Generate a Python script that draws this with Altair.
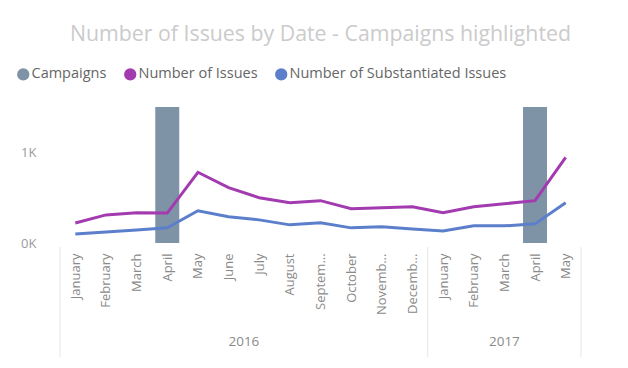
import altair as alt
import pandas as pd

months = ["January", "February", "March", "April", "May", "June", "July", "August",
          "September", "October", "November", "December",
          "January", "February", "March", "April", "May"]
years = [2016] * 12 + [2017] * 5
issues = [220, 310, 333, 330, 780, 610, 500, 445, 467, 378, 389, 400, 333, 400, 433, 467, 944]
substantiated = [100, 122, 144, 167, 355, 289, 255, 200, 222, 167, 178, 155, 133, 189, 189, 211, 444]
campaign_months = [3, 15]
campaign_value = 1500

series_names = ["Campaigns", "Number of Issues", "Number of Substantiated Issues"]
series_colors = ["#7F93A6", "#A33BB0", "#5C7FCB"]

idx = list(range(len(months)))
lines_df = pd.DataFrame(
    [{"idx": i, "series": "Number of Issues", "value": v} for i, v in zip(idx, issues)]
    + [{"idx": i, "series": "Number of Substantiated Issues", "value": v} for i, v in zip(idx, substantiated)]
)
bars_df = pd.DataFrame({"idx": campaign_months, "series": "Campaigns", "value": campaign_value})

year_df = pd.DataFrame({"idx": idx, "year": years})
year_lab = year_df.groupby("year")["idx"].agg(["min", "max"]).reset_index()
year_lab["mid"] = (year_lab["min"] + year_lab["max"]) / 2
year_lab["year"] = year_lab["year"].astype(str)
bounds = sorted(set([i - 0.5 for i in year_lab["min"]] + [i + 0.5 for i in year_lab["max"]]))
sep_df = pd.DataFrame({"b": bounds})

W, H = 521, 136
label_expr = "[" + ",".join("'%s'" % m for m in months) + "][datum.value]"

xscale = alt.Scale(domain=[-0.5, len(months) - 0.5], nice=False, zero=False, padding=0)
yscale = alt.Scale(domain=[0, 1500], nice=False)
cscale = alt.Scale(domain=series_names, range=series_colors)

x_axis = alt.Axis(values=idx, labelExpr=label_expr, labelAngle=-90, title=None,
                  grid=False, domain=False, ticks=False, labelFont="Open Sans",
                  labelFontSize=13, labelColor="#8a8a8a", labelLimit=62, labelPadding=10,
                  labelOverlap=False, labelFlush=False, labelBound=False)
y_axis = alt.Axis(values=[0, 1000], labelExpr="format(datum.value/1000, 'd') + 'K'", title=None,
                  grid=False, domain=False, ticks=False, labelFont="Open Sans",
                  labelFontSize=13, labelColor="#9a9a9a", labelPadding=24)

bars = alt.Chart(bars_df).mark_bar(size=24).encode(
    x=alt.X("idx:Q", scale=xscale, axis=x_axis),
    y=alt.Y("value:Q", scale=yscale, axis=y_axis),
    color=alt.Color("series:N", scale=cscale, legend=alt.Legend(
        title=None, orient="none", legendX=-44, legendY=-40, direction="horizontal",
        symbolType="circle", symbolSize=150, symbolStrokeWidth=0, labelFont="Open Sans",
        labelFontSize=14.5, labelColor="#666666", labelOffset=1, columnPadding=16,
        labelLimit=400)),
)

lines = alt.Chart(lines_df).mark_line(strokeWidth=3).encode(
    x=alt.X("idx:Q", scale=xscale, axis=x_axis),
    y=alt.Y("value:Q", scale=yscale, axis=y_axis),
    color=alt.Color("series:N", scale=cscale, legend=None),
    detail="series:N",
)

seps = alt.Chart(sep_df).mark_rule(color="#e6e6e6", strokeWidth=1).encode(
    x=alt.X("b:Q", scale=xscale, axis=x_axis),
    y=alt.value(H + 4),
    y2=alt.value(H + 114),
)

year_text = alt.Chart(year_lab).mark_text(font="Open Sans", fontSize=13.5, color="#8a8a8a",
                                          baseline="middle").encode(
    x=alt.X("mid:Q", scale=xscale, axis=x_axis),
    y=alt.value(H + 99),
    text="year:N",
)

chart = alt.layer(bars, lines, seps, year_text).properties(
    width=W, height=H,
    title=alt.Title("Number of Issues by Date - Campaigns highlighted", font="Open Sans",
                    fontSize=21.3, fontWeight="normal", color="#cbcbcb", anchor="middle",
                    offset=22),
    autosize=alt.AutoSizeParams(type="none"),
    padding={"left": 52, "top": 99, "right": 39, "bottom": 117},
).configure_view(stroke=None).configure_axis(labelOverlap=False)

chart.save("out.html", embed_options={"renderer": "svg", "actions": False})
